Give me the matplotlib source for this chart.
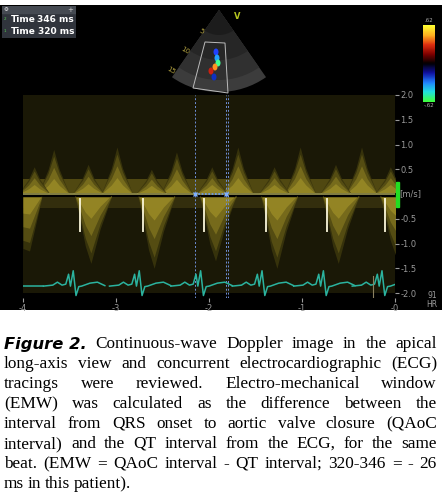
import numpy as np
import matplotlib
matplotlib.use('Agg')
import matplotlib.pyplot as plt
from matplotlib.patches import Rectangle, Wedge, Ellipse, Polygon
from matplotlib.colors import LinearSegmentedColormap

W, H = 442, 496

# Doppler data (time in s, velocity in m/s)
systole_onsets = [-3.39, -2.71, -2.05, -1.39, -0.73, -0.11]
systole_peaks = [-1.40, -1.50, -1.35, -1.50, -1.40, -1.25]
e_wave_times = [-3.67, -2.99, -2.35, -1.69, -1.02, -0.36]
e_wave_peaks = [0.90, 0.95, 0.85, 0.95, 0.95, 0.95]
a_wave_times = [-3.88, -3.30, -2.62, -1.97, -1.30, -0.64, -0.05]
a_wave_peaks = [0.55, 0.60, 0.50, 0.55, 0.55, 0.60, 0.55]
first_lobe_t = [-4.0, -3.93, -3.80]
first_lobe_v = [-1.10, -1.15, -0.10]

# envelope templates (offset s, fraction of peak)
sys_shape_dt = [-0.05, 0.0, 0.06, 0.12, 0.22, 0.34]
sys_shape_f = [0.05, 0.35, 0.75, 1.00, 0.50, 0.05]
dia_shape_dt = [-0.16, -0.06, 0.0, 0.06, 0.16]
dia_shape_f = [0.05, 0.55, 1.00, 0.55, 0.05]

# ECG
r_peaks = [-3.48, -2.77, -2.11, -1.45, -0.79, -0.16]
ecg_dt = [-0.30, -0.20, -0.15, -0.10, -0.06, -0.03, -0.01, 0.02, 0.05, 0.08, 0.11, 0.20, 0.28, 0.36]
ecg_v = [-1.86, -1.84, -1.78, -1.84, -1.82, -1.62, -1.86, -1.55, -2.05, -1.87, -1.86, -1.80, -1.78, -1.85]

caliper_t = [-2.15, -1.82, -1.80]
ytick_vals = [2.0, 1.5, 1.0, 0.5, -0.5, -1.0, -1.5, -2.0]
xtick_vals = [-4, -3, -2, -1, 0]
xtick_labels = ['-4', '-3', '-2', '-1', '-0']

caption_lines = [
    "Continuous-wave Doppler image in the apical",
    "long-axis view and concurrent electrocardiographic (ECG)",
    "tracings were reviewed. Electro-mechanical window",
    "(EMW) was calculated as the difference between the",
    "interval from QRS onset to aortic valve closure (QAoC",
    "interval) and the QT interval from the ECG, for the same",
    "beat. (EMW = QAoC interval - QT interval; 320-346 = - 26",
    "ms in this patient).",
]

fig = plt.figure(figsize=(W / 100, H / 100), dpi=100)
fig.patch.set_facecolor('white')


def fbox(x0, y0, x1, y1):
    return [x0 / W, 1 - y1 / H, (x1 - x0) / W, (y1 - y0) / H]


# black panel
bg = fig.add_axes(fbox(0, 5, 442, 310))
bg.set_facecolor('black')
bg.set_xticks([]); bg.set_yticks([])
for s in bg.spines.values():
    s.set_visible(False)

# ---- Doppler spectrum ----
ax = fig.add_axes(fbox(23, 95, 395, 298))
ax.set_facecolor('black')
ax.set_xlim(-4, 0)
ax.set_ylim(-2.1, 2.0)
ax.axhspan(-2.0, 2.0, color='#1a1806', lw=0)
ax.axhspan(0.03, 0.30, color='#5e5515', lw=0, alpha=0.8)
ax.axhspan(-0.28, -0.06, color='#3e3810', lw=0, alpha=0.7)
ax.axhspan(-0.06, 0.03, color='black', lw=0)

layers = [(1.0, '#3a350c', 0.9), (0.85, '#5c5315', 0.8), (0.6, '#857820', 0.7), (0.35, '#a8972a', 0.6)]
for t0, pk in zip(systole_onsets, systole_peaks):
    tt = np.array(sys_shape_dt) + t0
    for sc, col, al in layers:
        ax.fill_between(tt, -0.06, np.array(sys_shape_f) * pk * sc, color=col, alpha=al, lw=0)
    ax.plot([t0, t0], [-0.1, -0.75], color='#fffbe0', lw=1.4, alpha=0.9)
for times, peaks in ((e_wave_times, e_wave_peaks), (a_wave_times, a_wave_peaks)):
    for t0, pk in zip(times, peaks):
        tt = np.array(dia_shape_dt) + t0
        for sc, col, al in layers:
            ax.fill_between(tt, 0.03, np.array(dia_shape_f) * pk * sc, color=col, alpha=al, lw=0)
for sc, col, al in layers:
    ax.fill_between(first_lobe_t, -0.06, np.array(first_lobe_v) * sc, color=col, alpha=al, lw=0)

ax.axhline(0, color='#9a9550', lw=1.2)
for t in caliper_t:
    ax.axvline(t, color='#6f8fd8', lw=0.7, ls=(0, (2, 2)))
ax.plot([caliper_t[0], caliper_t[1]], [0, 0], color='#6f9ff0', lw=1.2, ls=(0, (1, 1)))
ax.plot(caliper_t[:2], [0, 0], 'x', color='#7fb0ff', ms=3)

# ECG
for rp in r_peaks:
    ax.plot(np.array(ecg_dt) + rp, ecg_v, color='#2bb39f', lw=1.1, solid_joinstyle='round')
ax.plot([-4.0, r_peaks[0] + ecg_dt[0]], [-1.86, -1.86], color='#2bb39f', lw=1.1)
ax.plot([-0.24, -0.24], [-1.65, -2.1], color='#8a8060', lw=0.8)

ax.yaxis.tick_right()
ax.set_yticks(ytick_vals)
ax.set_yticklabels([f'{v:.1f}' for v in ytick_vals])
ax.set_xticks(xtick_vals)
ax.set_xticklabels(xtick_labels)
ax.tick_params(colors='#9a9a9a', labelsize=6, length=3, pad=1)
ax.text(1.012, 2.1 / 4.1, '[m/s]', transform=ax.transAxes, color='#9a9a9a', fontsize=6, va='center')
for s in ax.spines.values():
    s.set_visible(False)
ax.add_patch(Rectangle((1.002, (2.1 - 0.26) / 4.1), 0.009, 0.5 / 4.1, transform=ax.transAxes,
                       color='#22dd22', clip_on=False))
fig.text(432 / W, 1 - 300 / H, '91\nHR', color='#9a9a9a', fontsize=5.5, ha='center', va='center',
         linespacing=0.9)

# ---- echo sector ----
ex = fig.add_axes(fbox(160, 5, 280, 95))
ex.set_xlim(160, 280); ex.set_ylim(95, 5)
ex.axis('off')
for r, c in ((82, '#3c3c3c'), (70, '#303030'), (50, '#262626'), (25, '#1c1c1c')):
    ex.add_patch(Wedge((219, 10), r, 55, 125, color=c, lw=0))
ex.add_patch(Polygon([(205, 42), (225, 43), (228, 93), (193, 88)], fill=False, ec='#bbbbbb', lw=0.7))
blob_xy = [(216, 52), (217, 58), (218, 63), (215, 67), (211, 71), (214, 77)]
blob_c = ['#2040ff', '#20a0ff', '#40ff90', '#ff9020', '#cc2010', '#1030c0']
for (bx, by), c in zip(blob_xy, blob_c):
    ex.add_patch(Ellipse((bx, by), 5, 7, color=c, lw=0))
ex.text(234, 19, 'V', color='#b5c520', fontsize=6, fontweight='bold')
for lab, (lx, ly) in zip(['5', '10', '15'], [(198, 34), (180, 54), (166, 74)]):
    ex.text(lx, ly, lab, color='#b0a040', fontsize=5, rotation=-30)

# ---- colour scale ----
cb = fig.add_axes(fbox(423, 25, 435, 102))
cmap = LinearSegmentedColormap.from_list('cf', ['#40ff40', '#20e0e0', '#2080ff', '#1010a0', '#000000',
                                               '#800000', '#e03010', '#ffb020', '#ffff30'])
cb.imshow(np.linspace(0, 1, 64)[::-1].reshape(-1, 1), aspect='auto', cmap=cmap)
cb.axis('off')
fig.text(429 / W, 1 - 22 / H, '.62', color='#aaaaaa', fontsize=4, ha='center')
fig.text(429 / W, 1 - 107 / H, '-.62', color='#aaaaaa', fontsize=4, ha='center')

# ---- measurement box ----
mb = fig.add_axes(fbox(2, 6, 76, 38))
mb.set_xlim(0, 74); mb.set_ylim(32, 0)
mb.axis('off')
mb.add_patch(Rectangle((0, 0), 74, 32, color='#30343c'))
mb.add_patch(Rectangle((0, 0), 74, 7, color='#454a52'))
mb.text(2, 3.5, '⚙', color='white', fontsize=4, va='center')
mb.text(71, 3.5, '+', color='#cccccc', fontsize=5, va='center', ha='right')
for yy, num, val in ((13, '2', '346 ms'), (25, '1', '320 ms')):
    mb.text(2, yy, num, color='#55cc55', fontsize=3, va='center')
    mb.text(9, yy, 'Time', color='white', fontsize=6.5, fontweight='bold', va='center')
    mb.text(72, yy, val, color='white', fontsize=6.5, fontweight='bold', va='center', ha='right')

# ---- caption (justified) ----
renderer = fig.canvas.get_renderer()
left, right = 4, 437
fs = 12.4
line_y = [344, 364, 384, 404, 424, 444, 464, 484]


def width_px(t):
    return t.get_window_extent(renderer).width


for i, (line, yy) in enumerate(zip(caption_lines, line_y)):
    words = line.split(' ')
    items = []
    if i == 0:
        items.append(fig.text(0, 1 - yy / H, 'Figure 2.', fontsize=fs - 0.6, fontweight='bold', style='italic',
                              family='DejaVu Sans', va='center'))
    for w in words:
        items.append(fig.text(0, 1 - yy / H, w, fontsize=fs, family='Liberation Serif', va='center'))
    widths = [width_px(t) for t in items]
    if i == len(caption_lines) - 1:
        gap = 3.5
    else:
        gap = (right - left - sum(widths)) / (len(items) - 1)
    x = left
    for t, w in zip(items, widths):
        t.set_x(x / W)
        x += w + gap

fig.savefig('out.png', dpi=100, facecolor='white')
